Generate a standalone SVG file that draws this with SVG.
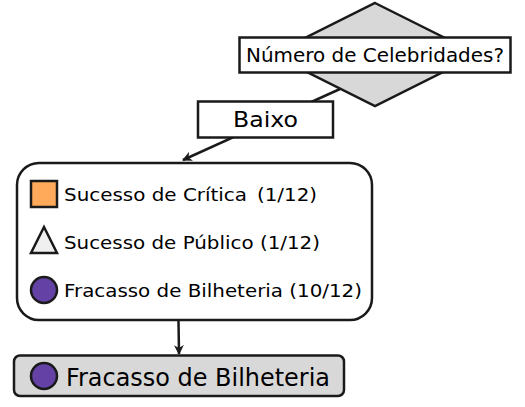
<svg xmlns="http://www.w3.org/2000/svg" width="525" height="407" viewBox="0 0 525 407">
<style>
text{font-family:"DejaVu Sans",sans-serif;fill:#000}
.box{fill:#fff;stroke:#1a1a1a;stroke-width:2.5}
.edge{stroke:#1a1a1a;stroke-width:2.5;fill:none}
.purple{fill:#6441a5;stroke:#1a1a1a;stroke-width:2.5}
.item{font-size:18.5px}
</style>
<defs>
<marker id="arr" markerWidth="10" markerHeight="10" refX="9" refY="5" orient="auto" markerUnits="userSpaceOnUse">
<path d="M0,0 L10,5 L0,10 L3,5 Z" fill="#1a1a1a"/>
</marker>
</defs>
<g id="connectors">
<line class="edge" x1="340" y1="89" x2="183" y2="160" marker-end="url(#arr)"/>
<line class="edge" x1="178.5" y1="321" x2="179" y2="354" marker-end="url(#arr)"/>
</g>
<g id="decision">
<polygon points="375,3 478,54.5 375,106 272,54.5" fill="#d8d8d8" stroke="#1a1a1a" stroke-width="2.5"/>
<rect class="box" x="239.5" y="37.5" width="271" height="35"/>
<text x="246" y="62" font-size="20" textLength="258" lengthAdjust="spacingAndGlyphs">Número de Celebridades?</text>
</g>
<g id="edge-label">
<rect class="box" x="198" y="101.5" width="135" height="36"/>
<text x="233" y="127.3" font-size="22" textLength="65" lengthAdjust="spacingAndGlyphs">Baixo</text>
</g>
<g id="summary">
<rect class="box" x="17" y="163" width="355" height="157" rx="22"/>
<rect x="31" y="181" width="26" height="26" fill="#ffaa5a" stroke="#1a1a1a" stroke-width="2.5"/>
<text class="item" x="64" y="200.7" textLength="183" lengthAdjust="spacingAndGlyphs">Sucesso de Crítica</text>
<text class="item" x="257" y="200.7" textLength="60" lengthAdjust="spacingAndGlyphs">(1/12)</text>
<polygon points="44,227 57,253 31,253" fill="#f0f0f0" stroke="#1a1a1a" stroke-width="2.5"/>
<text class="item" x="64" y="248.5" textLength="256" lengthAdjust="spacingAndGlyphs">Sucesso de Público (1/12)</text>
<circle class="purple" cx="44" cy="290" r="13"/>
<text class="item" x="64" y="297" textLength="298" lengthAdjust="spacingAndGlyphs">Fracasso de Bilheteria (10/12)</text>
</g>
<g id="leaf">
<rect x="14" y="355.5" width="330" height="40.5" rx="6" fill="#d8d8d8" stroke="#1a1a1a" stroke-width="2.5"/>
<circle class="purple" cx="44" cy="376" r="13"/>
<text x="66" y="385.5" font-size="24.5" textLength="264" lengthAdjust="spacingAndGlyphs">Fracasso de Bilheteria</text>
</g>
</svg>
